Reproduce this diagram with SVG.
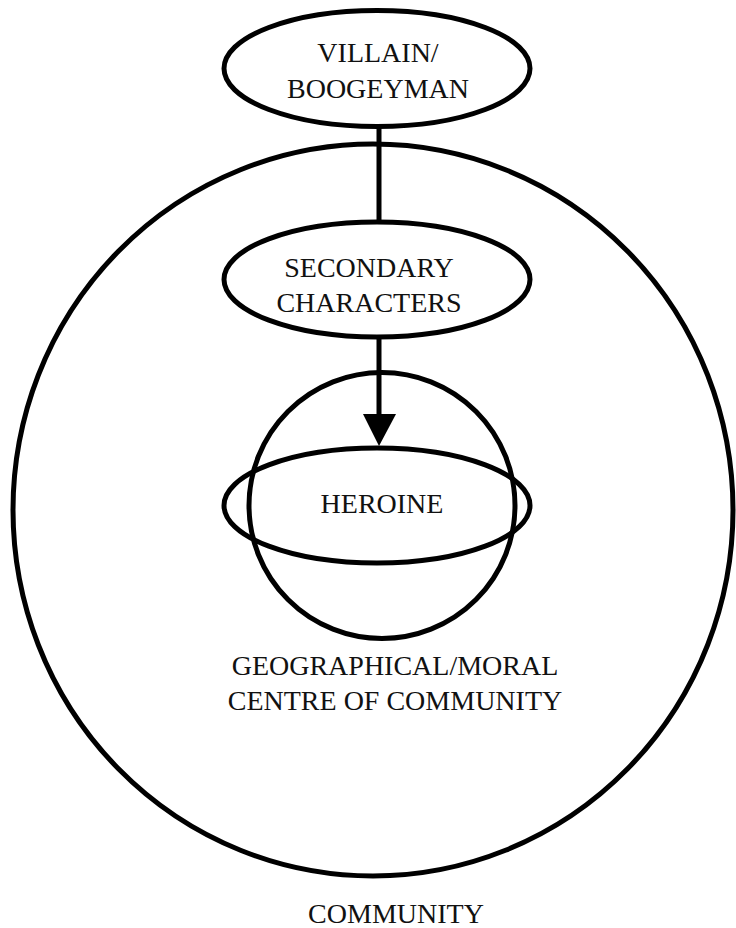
<svg xmlns="http://www.w3.org/2000/svg" width="736" height="928" viewBox="0 0 736 928">
<style>
.s{fill:none;stroke:#000;stroke-width:5}
.t{font-family:"Liberation Serif","Times New Roman",serif;font-size:28px;fill:#111;text-anchor:middle}
</style>
<rect width="736" height="928" fill="#fff"/>
<g id="community">
<ellipse class="s" cx="373" cy="510" rx="360" ry="366"/>
<text class="t" x="396" y="923">COMMUNITY</text>
</g>
<g id="centre">
<circle class="s" cx="382" cy="505.5" r="133"/>
<text class="t" x="395" y="675">GEOGRAPHICAL/MORAL</text>
<text class="t" x="395" y="710">CENTRE OF COMMUNITY</text>
</g>
<g id="heroine">
<ellipse class="s" cx="377" cy="505.5" rx="153" ry="57.5"/>
<text class="t" x="382" y="513">HEROINE</text>
</g>
<g id="villain">
<ellipse class="s" cx="377" cy="68.5" rx="153" ry="58" fill="#fff"/>
<text class="t" x="378" y="62">VILLAIN/</text>
<text class="t" x="378" y="98">BOOGEYMAN</text>
</g>
<g id="secondary">
<ellipse class="s" cx="377" cy="279.5" rx="153" ry="57.5" fill="#fff"/>
<text class="t" x="369" y="277">SECONDARY</text>
<text class="t" x="369" y="312">CHARACTERS</text>
</g>
<g id="connectors">
<line class="s" x1="379" y1="127" x2="379" y2="222"/>
<line class="s" x1="379" y1="337" x2="379" y2="418"/>
<polygon points="363,414 396,414 379,446" fill="#000"/>
</g>
</svg>
